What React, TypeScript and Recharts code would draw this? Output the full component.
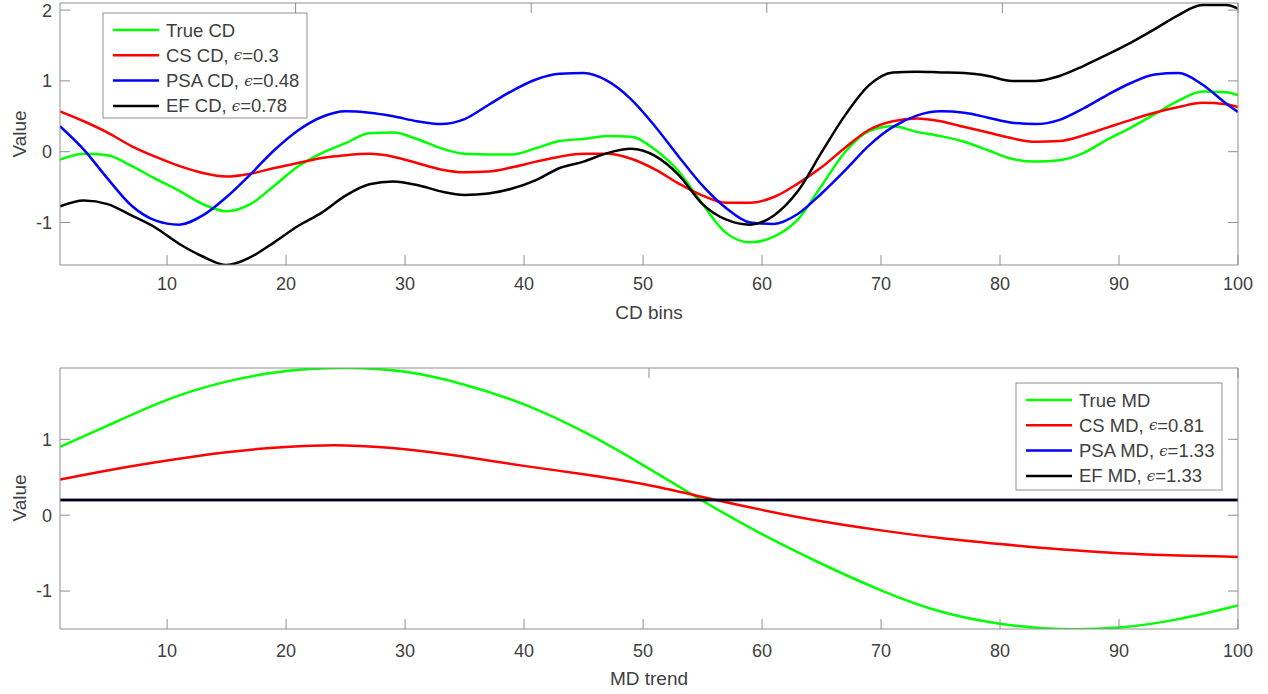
import { LineChart, Line, XAxis, YAxis } from "recharts";

// ---- top panel: CD bins ----
const xTop = [
  1, 3, 5, 7, 9, 11, 13, 15, 17, 19, 21, 23, 25, 27, 29, 31, 33, 35, 37, 39, 41, 43, 45, 47, 49, 51,
  53, 55, 57, 59, 61, 63, 65, 67, 69, 71, 73, 75, 77, 79, 81, 83, 85, 87, 89, 91, 93, 95, 97, 99, 100,
];
const trueCD = [
  -0.11, -0.03, -0.05, -0.2, -0.38, -0.55, -0.74, -0.84, -0.74, -0.48, -0.21, -0.02, 0.12, 0.26, 0.27,
  0.18, 0.05, -0.03, -0.04, -0.04, 0.05, 0.15, 0.18, 0.22, 0.21, 0.03, -0.28, -0.74, -1.15, -1.28, -1.2,
  -0.96, -0.48, 0.0, 0.29, 0.36, 0.28, 0.22, 0.14, 0.02, -0.1, -0.14, -0.12, -0.02, 0.17, 0.34, 0.53,
  0.72, 0.85, 0.84, 0.8,
];
const csCD = [
  0.57, 0.43, 0.27, 0.08, -0.07, -0.2, -0.3, -0.35, -0.31, -0.23, -0.16, -0.09, -0.05, -0.03, -0.07,
  -0.16, -0.25, -0.29, -0.28, -0.22, -0.14, -0.07, -0.03, -0.03, -0.1, -0.25, -0.45, -0.62, -0.72,
  -0.72, -0.64, -0.45, -0.22, 0.06, 0.31, 0.43, 0.47, 0.43, 0.35, 0.27, 0.19, 0.14, 0.15, 0.23, 0.34,
  0.45, 0.55, 0.63, 0.69, 0.67, 0.63,
];
const psaCD = [
  0.36, 0.03, -0.38, -0.76, -0.97, -1.03, -0.9, -0.64, -0.32, 0.02, 0.3, 0.49, 0.57, 0.55, 0.5, 0.43,
  0.39, 0.46, 0.66, 0.86, 1.02, 1.1, 1.11, 1.0, 0.74, 0.36, -0.07, -0.48, -0.8, -1.0, -1.02, -0.88,
  -0.59, -0.26, 0.09, 0.35, 0.51, 0.57, 0.55, 0.48, 0.41, 0.39, 0.45, 0.61, 0.8, 0.97, 1.09, 1.11,
  0.95, 0.68, 0.56,
];
const efCD = [
  -0.77, -0.69, -0.74, -0.9, -1.07, -1.3, -1.48, -1.6, -1.49, -1.28, -1.05, -0.86, -0.62, -0.46, -0.42,
  -0.47, -0.56, -0.61, -0.59, -0.52, -0.4, -0.23, -0.14, -0.02, 0.04, -0.06, -0.33, -0.74, -0.96,
  -1.03, -0.9, -0.56, -0.01, 0.52, 0.94, 1.12, 1.13, 1.12, 1.11, 1.07, 1.0, 1.0, 1.07, 1.21, 1.37,
  1.54, 1.73, 1.93, 2.07, 2.07, 2.02,
];

// ---- bottom panel: MD trend ----
const xBottom = [1, 5, 10, 15, 20, 25, 30, 35, 40, 45, 50, 55, 60, 65, 70, 75, 80, 85, 90, 95, 100];
const trueMD = [
  0.9, 1.18, 1.52, 1.76, 1.9, 1.94, 1.89, 1.72, 1.46, 1.1, 0.66, 0.19, -0.25, -0.64, -0.99, -1.27,
  -1.43, -1.5, -1.48, -1.37, -1.19,
];
const csMD = [
  0.47, 0.59, 0.72, 0.83, 0.9, 0.92, 0.87, 0.77, 0.65, 0.54, 0.41, 0.24, 0.07, -0.08, -0.2, -0.3,
  -0.38, -0.45, -0.5, -0.53, -0.55,
];
const psaMD = [
  0.2, 0.2, 0.2, 0.2, 0.2, 0.2, 0.2, 0.2, 0.2, 0.2, 0.2, 0.2, 0.2, 0.2, 0.2, 0.2, 0.2, 0.2, 0.2, 0.2, 0.2,
];
const efMD = [
  0.2, 0.2, 0.2, 0.2, 0.2, 0.2, 0.2, 0.2, 0.2, 0.2, 0.2, 0.2, 0.2, 0.2, 0.2, 0.2, 0.2, 0.2, 0.2, 0.2, 0.2,
];

const xTicks = [10, 20, 30, 40, 50, 60, 70, 80, 90, 100];
const yTicksTop = [-1, 0, 1, 2];
const yTicksBottom = [-1, 0, 1];

const topLegend = [
  { name: "True CD", eps: "", color: "#00ff00" },
  { name: "CS CD, ", eps: "0.3", color: "#ff0000" },
  { name: "PSA CD, ", eps: "0.48", color: "#0000ff" },
  { name: "EF CD, ", eps: "0.78", color: "#000000" },
];
const bottomLegend = [
  { name: "True MD", eps: "", color: "#00ff00" },
  { name: "CS MD, ", eps: "0.81", color: "#ff0000" },
  { name: "PSA MD, ", eps: "1.33", color: "#0000ff" },
  { name: "EF MD, ", eps: "1.33", color: "#000000" },
];

const topData = xTop.map((x, i) => ({
  x,
  trueCD: trueCD[i],
  csCD: csCD[i],
  psaCD: psaCD[i],
  efCD: efCD[i],
}));
const bottomData = xBottom.map((x, i) => ({
  x,
  trueMD: trueMD[i],
  csMD: csMD[i],
  psaMD: psaMD[i],
  efMD: efMD[i],
}));

const FONT = "'Liberation Sans', Arial, Helvetica, sans-serif";
const AXIS = "#8f8f8f";
const TEXT = "#404040";
const LW = 2.5;

function legendBox(
  x: number,
  y: number,
  w: number,
  h: number,
  items: { name: string; eps: string; color: string }[],
) {
  const rowH = 25.3;
  return (
    <g>
      <rect x={x} y={y} width={w} height={h} fill="#fff" stroke={AXIS} strokeWidth={1} />
      {items.map((it, i) => {
        const cy = y + 17 + i * rowH;
        return (
          <g key={it.name}>
            <line x1={x + 10} x2={x + 56} y1={cy} y2={cy} stroke={it.color} strokeWidth={LW} />
            <text x={x + 63} y={cy} dominantBaseline="central" fontSize={18.5} fill={TEXT} fontFamily={FONT}>
              {it.name}
              {it.eps && (
                <>
                  <tspan fontFamily="'DejaVu Serif', serif" fontStyle="italic" fontSize={15}>
                    ϵ
                  </tspan>
                  {"=" + it.eps}
                </>
              )}
            </text>
          </g>
        );
      })}
    </g>
  );
}

// box with inward ticks on all four sides, like a MATLAB axes
function frameAxes(domainY: number[], ticksY: number[], xAxisHeight: number, xTickMargin: number) {
  const tickStyle = { fill: TEXT, fontSize: 18, fontFamily: FONT };
  return [
    <XAxis
      key="xb"
      dataKey="x"
      type="number"
      domain={[1, 100]}
      allowDataOverflow
      ticks={xTicks}
      tickSize={-10}
      tickMargin={xTickMargin}
      height={xAxisHeight}
      stroke={AXIS}
      tick={tickStyle}
    />,
    <XAxis
      key="xt"
      xAxisId="t"
      orientation="top"
      type="number"
      domain={[1, 100]}
      allowDataOverflow
      ticks={xTicks}
      tickSize={-10}
      height={1}
      stroke={AXIS}
      tickFormatter={() => ""}
    />,
    <YAxis
      key="yl"
      type="number"
      domain={domainY}
      allowDataOverflow
      ticks={ticksY}
      tickSize={-10}
      tickMargin={18}
      width={60}
      stroke={AXIS}
      tick={tickStyle}
    />,
    <YAxis
      key="yr"
      yAxisId="r"
      orientation="right"
      type="number"
      domain={domainY}
      allowDataOverflow
      ticks={ticksY}
      tickSize={-10}
      width={1}
      stroke={AXIS}
      tickFormatter={() => ""}
    />,
  ];
}

export default function App() {
  return (
    <div
      style={{
        position: "absolute",
        left: 0,
        top: 0,
        width: 1268,
        height: 694,
        background: "#fff",
        fontFamily: FONT,
      }}
    >
      <div style={{ position: "absolute", left: 0, top: 0 }}>
        <LineChart width={1268} height={340} data={topData} margin={{ top: 2, right: 29, bottom: 0, left: 0 }}>
          {frameAxes([-1.6, 2.1], yTicksTop, 75, 22)}
          <Line dataKey="trueCD" type="monotone" stroke="#00ff00" strokeWidth={LW} dot={false} isAnimationActive={false} />
          <Line dataKey="csCD" type="monotone" stroke="#ff0000" strokeWidth={LW} dot={false} isAnimationActive={false} />
          <Line dataKey="psaCD" type="monotone" stroke="#0000ff" strokeWidth={LW} dot={false} isAnimationActive={false} />
          <Line dataKey="efCD" type="monotone" stroke="#000000" strokeWidth={LW} dot={false} isAnimationActive={false} />
          {legendBox(103, 13, 204, 105, topLegend)}
          <text x={19} y={134} transform="rotate(-90 19 134)" textAnchor="middle" dominantBaseline="central" fontSize={19} fill={TEXT} fontFamily={FONT}>
            Value
          </text>
          <text x={649} y={312} textAnchor="middle" dominantBaseline="central" fontSize={19} fill={TEXT} fontFamily={FONT}>
            CD bins
          </text>
        </LineChart>
      </div>
      <div style={{ position: "absolute", left: 0, top: 340 }}>
        <LineChart width={1268} height={354} data={bottomData} margin={{ top: 27, right: 29, bottom: 0, left: 0 }}>
          {frameAxes([-1.5, 1.94], yTicksBottom, 65, 25)}
          <Line dataKey="trueMD" type="natural" stroke="#00ff00" strokeWidth={LW} dot={false} isAnimationActive={false} />
          <Line dataKey="csMD" type="natural" stroke="#ff0000" strokeWidth={LW} dot={false} isAnimationActive={false} />
          <Line dataKey="psaMD" type="natural" stroke="#0000ff" strokeWidth={LW} dot={false} isAnimationActive={false} />
          <Line dataKey="efMD" type="natural" stroke="#000000" strokeWidth={LW} dot={false} isAnimationActive={false} />
          {legendBox(1016, 43, 206, 107, bottomLegend)}
          <text x={19} y={158} transform="rotate(-90 19 158)" textAnchor="middle" dominantBaseline="central" fontSize={19} fill={TEXT} fontFamily={FONT}>
            Value
          </text>
          <text x={649} y={338} textAnchor="middle" dominantBaseline="central" fontSize={19} fill={TEXT} fontFamily={FONT}>
            MD trend
          </text>
        </LineChart>
      </div>
    </div>
  );
}
